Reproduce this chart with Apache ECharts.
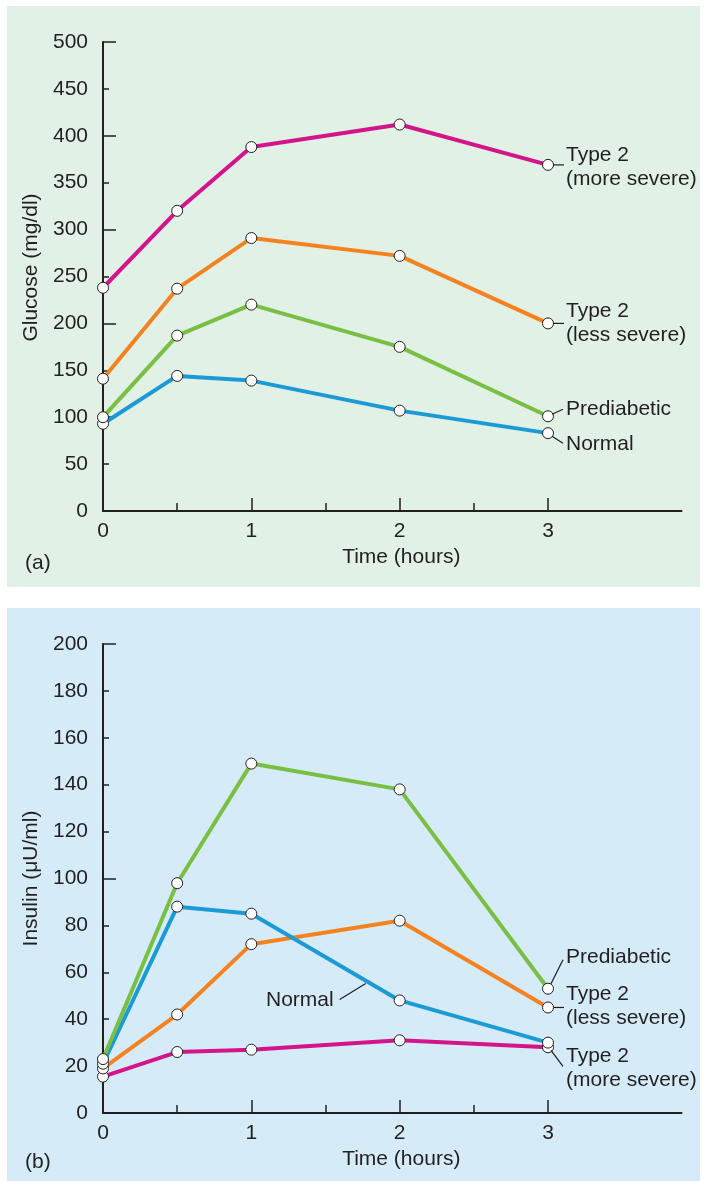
<!DOCTYPE html>
<html><head><meta charset="utf-8">
<script src="https://cdn.jsdelivr.net/npm/echarts@6/dist/echarts.min.js"></script>
<style>html,body{margin:0;padding:0;background:#fff}#c{width:704px;height:1181px}</style>
</head><body><div id="c"></div>
<script>
// ---- data ----
const times = [0, 0.5, 1, 2, 3];
const xTickLabels = [0, 1, 2, 3];
const xMinorTicks = [0.5, 1.5, 2.5];
const glucoseTicks = [0, 50, 100, 150, 200, 250, 300, 350, 400, 450, 500];
const insulinTicks = [0, 20, 40, 60, 80, 100, 120, 140, 160, 180, 200];

const glucoseNormal      = [93, 144, 139, 107, 83];
const glucosePrediabetic = [100, 187, 220, 175, 101];
const glucoseType2Less   = [141, 237, 291, 272, 200];
const glucoseType2More   = [238, 320, 388, 412, 369];

const insulinNormal      = [21, 88, 85, 48, 30];
const insulinPrediabetic = [23, 98, 149, 138, 53];
const insulinType2Less   = [19, 42, 72, 82, 45];
const insulinType2More   = [15.5, 26, 27, 31, 28];

// ---- style ----
const FONT = "'Liberation Sans', Arial, Helvetica, sans-serif";
const INK = '#231f20';
const FS = 21;
const C = { more: '#d4148a', less: '#f58220', pre: '#79bf43', normal: '#1b9ad6' };

const chart = echarts.init(document.getElementById('c'), null, { renderer: 'canvas' });

function pairs(vals) { return times.map((t, i) => [t, vals[i]]); }

function xAxes(gridIndex) {
  return [
    {
      gridIndex, type: 'value', min: 0, max: 3.9, position: 'bottom',
      axisLine: { show: true, lineStyle: { color: INK, width: 2 } },
      axisTick: { show: true, inside: true, length: 13, customValues: [1, 2, 3], lineStyle: { color: INK, width: 1.5 } },
      axisLabel: { show: true, customValues: xTickLabels, fontSize: FS, fontFamily: FONT, color: INK, margin: 10 },
      splitLine: { show: false },
      name: 'Time (hours)', nameLocation: 'middle', nameGap: 36,
      nameTextStyle: { fontSize: FS, fontFamily: FONT, color: INK, padding: [0, 0, 0, 18] }
    },
    {
      gridIndex, type: 'value', min: 0, max: 3.9, position: 'bottom', offset: 0,
      axisLine: { show: false },
      axisTick: { show: true, inside: true, length: 8, customValues: xMinorTicks, lineStyle: { color: INK, width: 1.5 } },
      axisLabel: { show: false },
      splitLine: { show: false }
    }
  ];
}

function yAxes(gridIndex, max, interval, bigInterval, name, pad) {
  return [
    {
      gridIndex, type: 'value', min: 0, max, interval, position: 'left',
      axisLine: { show: true, lineStyle: { color: INK, width: 2 } },
      axisTick: { show: true, inside: true, length: 6, lineStyle: { color: INK, width: 1.5 } },
      axisLabel: { fontSize: FS, fontFamily: FONT, color: INK, margin: 15 },
      splitLine: { show: false },
      name, nameLocation: 'middle', nameGap: 58,
      nameTextStyle: { fontSize: FS, fontFamily: FONT, color: INK, padding: pad }
    },
    {
      gridIndex, type: 'value', min: 0, max, interval: bigInterval, position: 'left', offset: 0,
      axisLine: { show: false },
      axisTick: { show: true, inside: true, length: 13, lineStyle: { color: INK, width: 1.5 } },
      axisLabel: { show: false },
      splitLine: { show: false }
    }
  ];
}

function lineSeries(name, vals, color, xi, yi) {
  return {
    name, type: 'line', xAxisIndex: xi, yAxisIndex: yi, data: pairs(vals),
    lineStyle: { color, width: 4 },
    symbol: 'circle', symbolSize: 11,
    itemStyle: { color: '#ffffff', borderColor: INK, borderWidth: 1 },
    emphasis: { disabled: true }, silent: true, z: 3
  };
}

const option = {
  animation: false,
  backgroundColor: '#ffffff',
  grid: [
    { left: 103, top: 42, width: 578.5, height: 469 },
    { left: 103, top: 644, width: 578.5, height: 469 }
  ],
  xAxis: [...xAxes(0), ...xAxes(1)],
  yAxis: [
    ...yAxes(0, 500, 50, 100, 'Glucose (mg/dl)', [0, 0, 0, 18]),
    ...yAxes(1, 200, 20, 100, 'Insulin (\u03bcU/ml)', [0, 0, 0, 0])
  ],
  series: [
    lineSeries('Normal', glucoseNormal, C.normal, 0, 0),
    lineSeries('Prediabetic', glucosePrediabetic, C.pre, 0, 0),
    lineSeries('Type 2 (less severe)', glucoseType2Less, C.less, 0, 0),
    lineSeries('Type 2 (more severe)', glucoseType2More, C.more, 0, 0),
    lineSeries('Type 2 (more severe)', insulinType2More, C.more, 2, 2),
    lineSeries('Type 2 (less severe)', insulinType2Less, C.less, 2, 2),
    lineSeries('Normal', insulinNormal, C.normal, 2, 2),
    lineSeries('Prediabetic', insulinPrediabetic, C.pre, 2, 2)
  ]
};
chart.setOption(option);

// ---- annotations anchored to data points ----
function px(grid, x, y) {
  const xi = grid === 0 ? 0 : 2, yi = grid === 0 ? 0 : 2;
  return chart.convertToPixel({ xAxisIndex: xi, yAxisIndex: yi }, [x, y]);
}
const G = [];
function txt(x, y, s, align, vAlign) {
  G.push({ type: 'text', x, y, z: 10, style: { text: s, fontSize: FS, fontFamily: FONT, fill: INK, align: align || 'left', verticalAlign: vAlign || 'middle', lineHeight: 24 } });
}
function ln(x1, y1, x2, y2) {
  G.push({ type: 'line', z: 10, shape: { x1, y1, x2, y2 }, style: { stroke: INK, lineWidth: 1.2 } });
}
// backgrounds
G.push({ type: 'rect', z: -100, shape: { x: 7, y: 6, width: 693, height: 581 }, style: { fill: '#e1f1e6' } });
G.push({ type: 'rect', z: -100, shape: { x: 7, y: 608, width: 693, height: 573 }, style: { fill: '#d5ecf8' } });
txt(25, 563, '(a)');
txt(25, 1162, '(b)');

// top panel labels
let p = px(0, 3, glucoseType2More[4]);
ln(p[0] + 5, p[1], p[0] + 16, p[1]); txt(p[0] + 18, p[1] - 22, 'Type 2\n(more severe)', 'left', 'top');
p = px(0, 3, glucoseType2Less[4]);
ln(p[0] + 5, p[1], p[0] + 16, p[1]); txt(p[0] + 18, p[1] - 24, 'Type 2\n(less severe)', 'left', 'top');
p = px(0, 3, glucosePrediabetic[4]);
ln(p[0] + 4, p[1] - 2, p[0] + 15, p[1] - 7); txt(p[0] + 18, p[1] - 7, 'Prediabetic');
p = px(0, 3, glucoseNormal[4]);
ln(p[0] + 4, p[1] + 3, p[0] + 15, p[1] + 10); txt(p[0] + 18, p[1] + 11, 'Normal');

// bottom panel labels
p = px(1, 3, insulinPrediabetic[4]);
ln(p[0] + 3, p[1] - 5, p[0] + 15, p[1] - 29); txt(p[0] + 18, p[1] - 32, 'Prediabetic');
p = px(1, 3, insulinType2Less[4]);
ln(p[0] + 5, p[1], p[0] + 16, p[1]); txt(p[0] + 18, p[1] - 25, 'Type 2\n(less severe)', 'left', 'top');
p = px(1, 3, insulinType2More[4]);
ln(p[0] + 3, p[1] + 3, p[0] + 15, p[1] + 19); txt(p[0] + 18, p[1] - 3, 'Type 2\n(more severe)', 'left', 'top');
p = px(1, 2, insulinNormal[3]);
ln(p[0] - 60, p[1] - 1, p[0] - 34, p[1] - 17); txt(p[0] - 66, p[1], 'Normal', 'right');

chart.setOption({ graphic: { elements: G } });
</script>
</body></html>
